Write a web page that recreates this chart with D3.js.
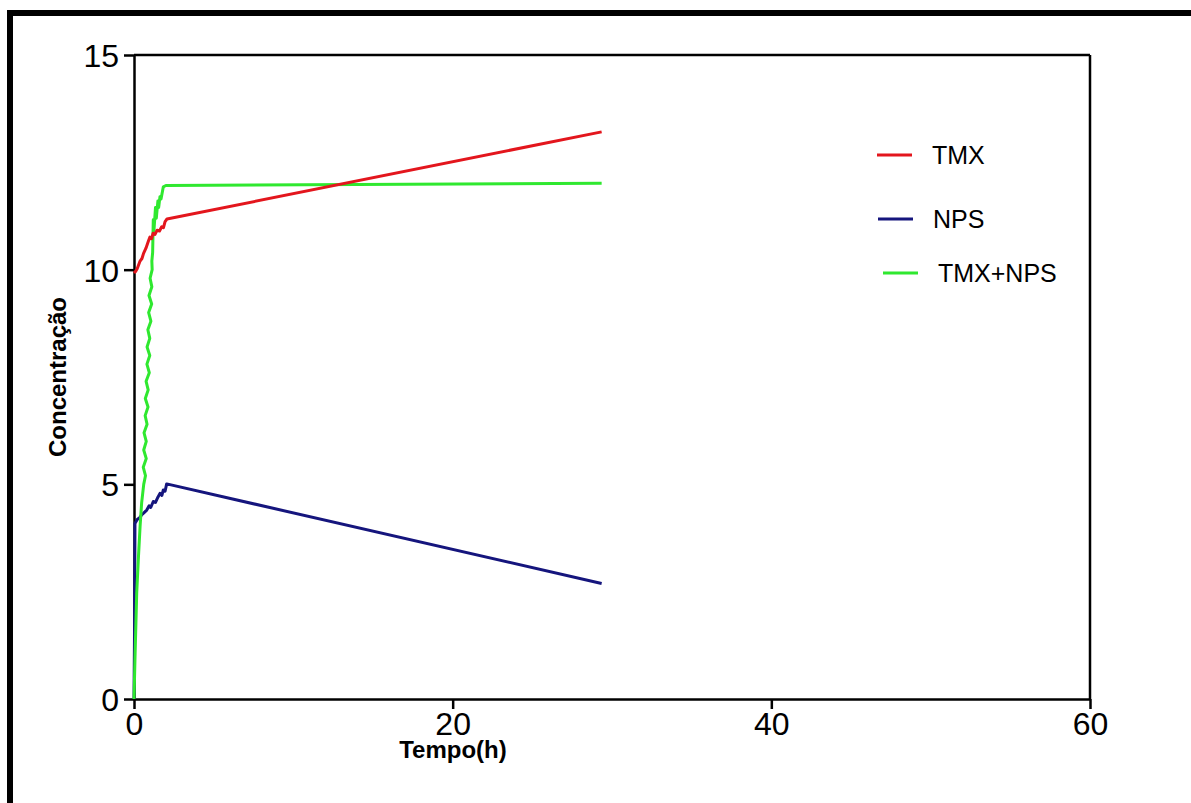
<!DOCTYPE html>
<html>
<head>
<meta charset="utf-8">
<script src="https://cdn.jsdelivr.net/npm/d3@7"></script>
<style>
  html, body { margin: 0; padding: 0; background: #fff; }
  svg { display: block; font-family: "Liberation Sans", Arial, sans-serif; }
</style>
</head>
<body>
<svg id="chart" width="1191" height="803"></svg>
<script>
// Concentração ao longo do tempo (h) para TMX, NPS e TMX+NPS
const xTicks = [0, 20, 40, 60];
const yTicks = [0, 5, 10, 15];

const tmxTime = [0, 0.1, 0.2, 0.38, 0.5, 0.6, 0.75, 0.9, 1.0, 1.1, 1.2, 1.32, 1.45, 1.6, 1.74, 1.85, 1.95, 2.07, 29.35];
const tmxConc = [9.92, 9.96, 10.02, 10.2, 10.26, 10.38, 10.5, 10.66, 10.76, 10.72, 10.85, 10.82, 10.92, 10.9, 11.0, 10.98, 11.12, 11.18, 13.21];

const npsTime = [0, 0.03, 0.06, 0.2, 0.35, 0.48, 0.6, 0.8, 0.95, 1.05, 1.21, 1.35, 1.5, 1.63, 1.75, 1.84, 1.95, 2.05, 29.35];
const npsConc = [0, 1.4, 4.09, 4.18, 4.22, 4.29, 4.33, 4.40, 4.50, 4.46, 4.60, 4.58, 4.70, 4.79, 4.74, 4.87, 4.84, 5.01, 2.69];

const mixTime = [0, 0.02, 0.06, 0.17, 0.27, 0.38, 0.48,
  0.61, 0.72, 0.58, 0.77, 0.61, 0.77, 0.63, 0.82, 0.70, 0.88, 0.71, 0.89, 0.76,
  0.96, 0.81, 0.99, 0.82, 0.99, 0.87, 1.06, 0.92, 1.11, 0.94, 1.12, 1.01, 1.14,
  1.12, 1.17, 1.21, 1.25, 1.35, 1.4, 1.5, 1.55, 1.63, 1.7, 1.84, 2.0, 29.35];
const mixConc = [0, 0.29, 0.91, 2.47, 3.24, 4.01, 4.57,
  5.0, 5.2, 5.4, 5.6, 5.8, 6.0, 6.2, 6.4, 6.6, 6.8, 7.0, 7.2, 7.4,
  7.6, 7.8, 8.0, 8.2, 8.4, 8.6, 8.8, 9.0, 9.2, 9.4, 9.6, 9.8, 10.0,
  10.2, 10.4, 11.16, 10.9, 11.45, 11.2, 11.6, 11.45, 11.7, 11.65, 11.93, 11.96, 12.01];

const seriesNames = ["TMX", "NPS", "TMX+NPS"];
const seriesColors = ["#e3161d", "#15157d", "#2fe82f"];

const svg = d3.select("#chart");
const W = 1191, H = 803;
const plot = { left: 134, right: 1090, top: 55, bottom: 699 };

// outer frame (left and top edges)
svg.append("rect").attr("x", 7).attr("y", 10).attr("width", 6).attr("height", H - 10).attr("fill", "#000");
svg.append("rect").attr("x", 7).attr("y", 10).attr("width", W - 7).attr("height", 6).attr("fill", "#000");

const x = d3.scaleLinear().domain([0, 60]).range([plot.left, plot.right]);
const y = d3.scaleLinear().domain([0, 15]).range([plot.bottom, plot.top]);

// axes
const xAxis = svg.append("g")
  .attr("transform", `translate(0,${plot.bottom})`)
  .call(d3.axisBottom(x).tickValues(xTicks).tickSize(10).tickPadding(3).tickSizeOuter(0));
const yAxis = svg.append("g")
  .attr("transform", `translate(${plot.left},0)`)
  .call(d3.axisLeft(y).tickValues(yTicks).tickSize(10).tickPadding(5).tickSizeOuter(0));

[xAxis, yAxis].forEach(g => {
  g.select(".domain").attr("stroke", "#000").attr("stroke-width", 2.5);
  g.selectAll(".tick line").attr("stroke", "#000").attr("stroke-width", 2.5);
  g.selectAll(".tick text")
    .attr("fill", "#000")
    .style("font-size", "32px")
    .style("font-family", "'Liberation Sans', Arial, sans-serif");
});
yAxis.selectAll(".tick text").attr("dy", "0.36em");

// top and right box edges
svg.append("line").attr("x1", plot.left).attr("x2", plot.right)
  .attr("y1", plot.top).attr("y2", plot.top)
  .attr("stroke", "#000").attr("stroke-width", 2.5);
svg.append("line").attr("x1", plot.right).attr("x2", plot.right)
  .attr("y1", plot.top).attr("y2", plot.bottom)
  .attr("stroke", "#000").attr("stroke-width", 2.5);

// axis titles
svg.append("text")
  .attr("x", 453).attr("y", 758)
  .attr("text-anchor", "middle")
  .style("font-size", "24px").style("font-weight", "bold")
  .text("Tempo(h)");
svg.append("text")
  .attr("transform", `translate(66,${(plot.top + plot.bottom) / 2}) rotate(-90)`)
  .attr("text-anchor", "middle")
  .style("font-size", "24px").style("font-weight", "bold")
  .text("Concentração");

// series lines
const line = d3.line().x(d => x(d[0])).y(d => y(d[1]));
const zip = (t, v) => t.map((ti, i) => [ti, v[i]]);
const series = [zip(tmxTime, tmxConc), zip(npsTime, npsConc), zip(mixTime, mixConc)];

const drawOrder = [1, 2, 0];
drawOrder.forEach(i => {
  svg.append("path")
    .datum(series[i])
    .attr("fill", "none")
    .attr("stroke", seriesColors[i])
    .attr("stroke-width", 3)
    .attr("stroke-linejoin", "round")
    .attr("d", line);
});

// legend
const legendRows = [
  { y: 155, x1: 877, x2: 912, tx: 932 },
  { y: 219, x1: 878, x2: 913, tx: 933 },
  { y: 273, x1: 883, x2: 918, tx: 938 }
];
legendRows.forEach((r, i) => {
  svg.append("line")
    .attr("x1", r.x1).attr("x2", r.x2).attr("y1", r.y).attr("y2", r.y)
    .attr("stroke", seriesColors[i]).attr("stroke-width", 3);
  svg.append("text")
    .attr("x", r.tx).attr("y", r.y + 9)
    .style("font-size", "25px")
    .text(seriesNames[i]);
});
</script>
</body>
</html>
